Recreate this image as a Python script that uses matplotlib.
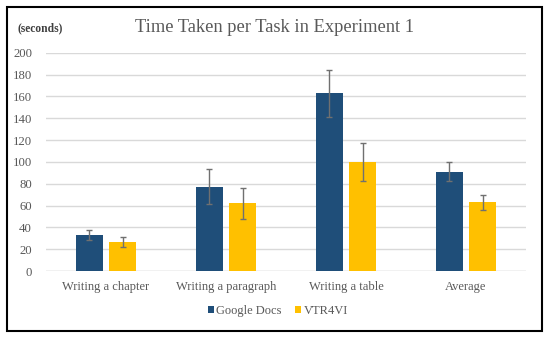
import numpy as np
import matplotlib.pyplot as plt
from matplotlib.patches import Rectangle

categories = ['Writing a chapter', 'Writing a paragraph', 'Writing a table', 'Average']
google_docs = [33, 77, 163, 91]
google_docs_err = [5, 16, 21.5, 9]
vtr4vi = [26.5, 62, 100, 63]
vtr4vi_err = [4.5, 14.5, 17.5, 7]

plt.rcParams['font.family'] = ['Liberation Serif', 'DejaVu Serif']

fig = plt.figure(figsize=(5.5, 3.38), dpi=100)
ax = fig.add_axes([46 / 550, 1 - 271 / 338, 480 / 550, 218.3 / 338])

x = np.arange(len(categories))
w = 0.225
off = 0.14
gray = '#595959'
err_kw = dict(ecolor='#707070', elinewidth=1, capsize=2.5, capthick=1)

ax.bar(x - off, google_docs, w, yerr=google_docs_err, color='#1f4e79',
       label='Google Docs', error_kw=err_kw, zorder=3)
ax.bar(x + off, vtr4vi, w, yerr=vtr4vi_err, color='#ffc000',
       label='VTR4VI', error_kw=err_kw, zorder=3)

ax.set_xlim(-0.5, len(categories) - 0.5)
ax.set_ylim(0, 200)
ax.set_yticks(range(0, 201, 20))
ax.yaxis.grid(True, color='#d9d9d9', linewidth=1, zorder=0)
ax.set_axisbelow(True)
for s in ax.spines.values():
    s.set_visible(False)
ax.axhline(0, color='#d9d9d9', linewidth=1, zorder=1)
ax.set_xticks(x)
ax.set_xticklabels(categories)
ax.tick_params(axis='both', length=0, labelsize=9.2, colors=gray)
ax.tick_params(axis='x', labelsize=9)
ax.tick_params(axis='y', pad=10)
ax.tick_params(axis='x', pad=7)

fig.text(0.5, 1 - 27 / 338, 'Time Taken per Task in Experiment 1', ha='center',
         va='center', fontsize=13.3, color=gray)
fig.text(18 / 550, 1 - 28 / 338, '(seconds)', ha='left', va='center',
         fontsize=8.3, fontweight='bold', color='#404040')

ax.legend(loc='center', bbox_to_anchor=(278 / 550, 1 - 311 / 338),
          bbox_transform=fig.transFigure, ncol=2, frameon=False,
          fontsize=9, labelcolor=gray, handlelength=0.45, handleheight=0.45,
          handletextpad=0.2, columnspacing=1.1)

fig.patches.append(Rectangle((7 / 550, 1 - 331 / 338), 535 / 550, 324 / 338,
                             transform=fig.transFigure, fill=False,
                             edgecolor='black', linewidth=1.5))

fig.savefig('out.png', dpi=100)
